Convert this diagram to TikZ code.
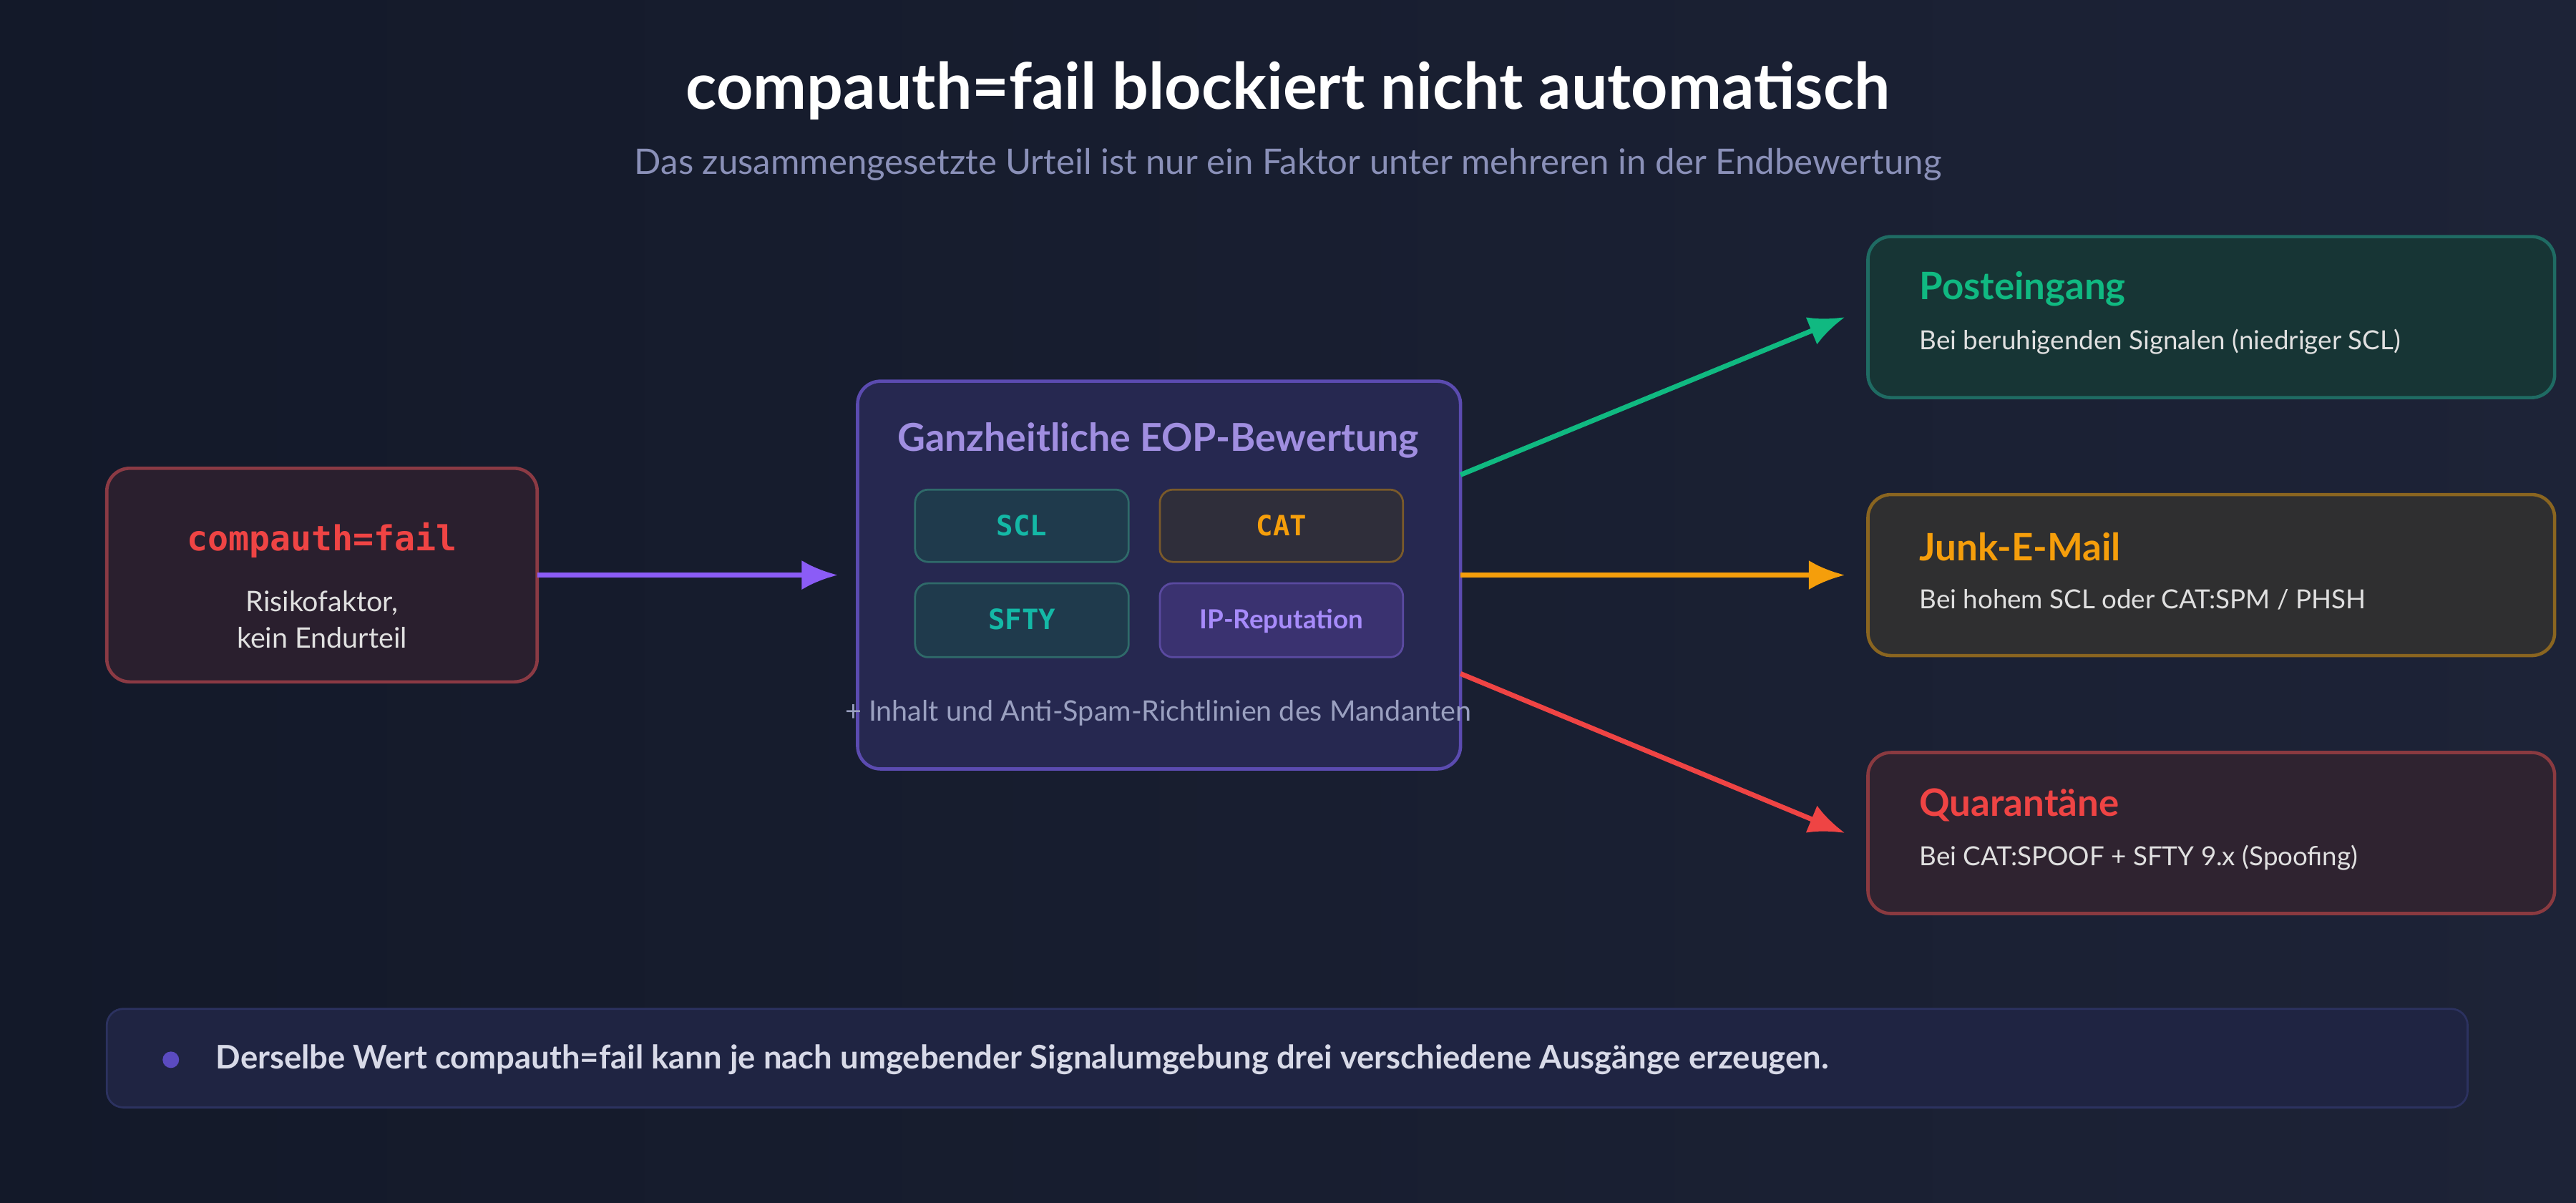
\documentclass[tikz,border=0pt]{standalone}
\usepackage{fontspec}
\setmainfont{Lato}
\setsansfont{Lato}
\setmonofont{DejaVu Sans Mono}
\usetikzlibrary{arrows.meta}
\definecolor{bgA}{HTML}{131929}
\definecolor{bgB}{HTML}{1d2337}
\definecolor{teal}{HTML}{14b8a6}
\definecolor{green}{HTML}{10b981}
\definecolor{orange}{HTML}{f59e0b}
\definecolor{red}{HTML}{ef4444}
\definecolor{purple}{HTML}{8b5cf6}
\definecolor{sub}{HTML}{8a90b8}
\definecolor{lfill}{HTML}{2a1f2e}\definecolor{ldraw}{HTML}{8b3a44}
\definecolor{mfill}{HTML}{262850}\definecolor{mdraw}{HTML}{5b4bb0}
\definecolor{mtext}{HTML}{a08ee0}
\definecolor{cfillA}{HTML}{1f3a4c}\definecolor{cdrawA}{HTML}{2f6a6a}
\definecolor{cfillB}{HTML}{2f2e3a}\definecolor{cdrawB}{HTML}{7a5a2a}
\definecolor{cfillC}{HTML}{3a3270}\definecolor{cdrawC}{HTML}{5a4aa0}
\definecolor{iptext}{HTML}{a78bfa}\definecolor{inh}{HTML}{9aa0c0}
\definecolor{pfill}{HTML}{173535}\definecolor{pdraw}{HTML}{1f6b63}
\definecolor{jfill}{HTML}{2f2f30}\definecolor{jdraw}{HTML}{8a6520}
\definecolor{qfill}{HTML}{2f2330}\definecolor{qdraw}{HTML}{8a3a40}
\definecolor{ffill}{HTML}{1f2442}\definecolor{fdraw}{HTML}{2c3260}
\definecolor{dot}{HTML}{5b4bc0}\definecolor{ftext}{HTML}{d8dae8}
\begin{document}
\begin{tikzpicture}[x=0.5pt,y=-0.5pt,
  box/.style={rounded corners=7pt,line width=1pt},
  chip/.style={rounded corners=4pt,line width=0.6pt},
  arr/.style={line width=1.5pt,-{Latex[length=11pt,width=9pt]}},
  ttl/.style={font=\bfseries\fontsize{11.5}{13}\selectfont,anchor=west,inner sep=0pt},
  dsc/.style={font=\fontsize{8}{10}\selectfont,anchor=west,inner sep=0pt,text=white!88!black}]
\shade[left color=bgA,right color=bgB] (0,0) rectangle (1568,732);
\useasboundingbox (0,0) rectangle (1568,732);
\node[font=\bfseries\fontsize{19.5}{23}\selectfont,text=white] (title) at (784,55) {compauth=fail blockiert nicht automatisch};
\node[font=\fontsize{10.7}{13}\selectfont,text=sub] (subt) at (784,100) {Das zusammengesetzte Urteil ist nur ein Faktor unter mehreren in der Endbewertung};
% left
\draw[box,fill=lfill,draw=ldraw] (65,285) rectangle (327,415);
\node[font=\ttfamily\bfseries\fontsize{10.5}{12}\selectfont,text=red] (cf) at (196,329) {compauth=fail};
\node[font=\fontsize{8.6}{11}\selectfont,text=white!88!black,align=center] (cft) at (196,377) {Risikofaktor,\\kein Endurteil};
\coordinate (L) at (327,350);
% middle
\draw[box,fill=mfill,draw=mdraw] (522,232) rectangle (889,468);
\node[font=\bfseries\fontsize{11.7}{13}\selectfont,text=mtext] (mt) at (705,268) {Ganzheitliche EOP-Bewertung};
\draw[chip,fill=cfillA,draw=cdrawA] (557,298) rectangle (687,342);
\node[font=\ttfamily\bfseries\fontsize{8.5}{10}\selectfont,text=teal] (scl) at (622,320) {SCL};
\draw[chip,fill=cfillB,draw=cdrawB] (706,298) rectangle (854,342);
\node[font=\ttfamily\bfseries\fontsize{8.5}{10}\selectfont,text=orange] (cat) at (780,320) {CAT};
\draw[chip,fill=cfillA,draw=cdrawA] (557,355) rectangle (687,400);
\node[font=\ttfamily\bfseries\fontsize{8.5}{10}\selectfont,text=teal] (sfty) at (622,377) {SFTY};
\draw[chip,fill=cfillC,draw=cdrawC] (706,355) rectangle (854,400);
\node[font=\bfseries\fontsize{8}{9}\selectfont,text=iptext] (ip) at (780,378) {IP-Reputation};
\node[font=\fontsize{8.6}{10}\selectfont,text=inh] (inh) at (705,434) {+ Inhalt und Anti-Spam-Richtlinien des Mandanten};
\coordinate (M) at (510,350);
\coordinate (MR1) at (889,289);
\coordinate (MR2) at (889,350);
\coordinate (MR3) at (889,410);
% right
\draw[box,fill=pfill,draw=pdraw] (1137,144) rectangle (1555,242);
\node[ttl,text=green] (p1) at (1168,176) {Posteingang};
\node[dsc] (p2) at (1168,208) {Bei beruhigenden Signalen (niedriger SCL)};
\draw[box,fill=jfill,draw=jdraw] (1137,301) rectangle (1555,399);
\node[ttl,text=orange] (j1) at (1168,333) {Junk-E-Mail};
\node[dsc] (j2) at (1168,365) {Bei hohem SCL oder CAT:SPM / PHSH};
\draw[box,fill=qfill,draw=qdraw] (1137,458) rectangle (1555,556);
\node[ttl,text=red] (q1) at (1168,490) {Quarantäne};
\node[dsc] (q2) at (1168,522) {Bei CAT:SPOOF + SFTY 9.x (Spoofing)};
\coordinate (R1) at (1123,193);
\coordinate (R2) at (1123,350);
\coordinate (R3) at (1123,507);
\draw[arr,purple] (L) -- (M);
\draw[arr,green] (MR1) -- (R1);
\draw[arr,orange] (MR2) -- (R2);
\draw[arr,red] (MR3) -- (R3);
% footer
\draw[rounded corners=5pt,line width=0.6pt,fill=ffill,draw=fdraw] (65,614) rectangle (1502,674);
\fill[dot] (104,645) circle (5);
\node[font=\bfseries\fontsize{9.9}{11}\selectfont,text=ftext,anchor=west,inner sep=0pt] (ft) at (131,645) {Derselbe Wert compauth=fail kann je nach umgebender Signalumgebung drei verschiedene Ausgänge erzeugen.};
\end{tikzpicture}
\end{document}
